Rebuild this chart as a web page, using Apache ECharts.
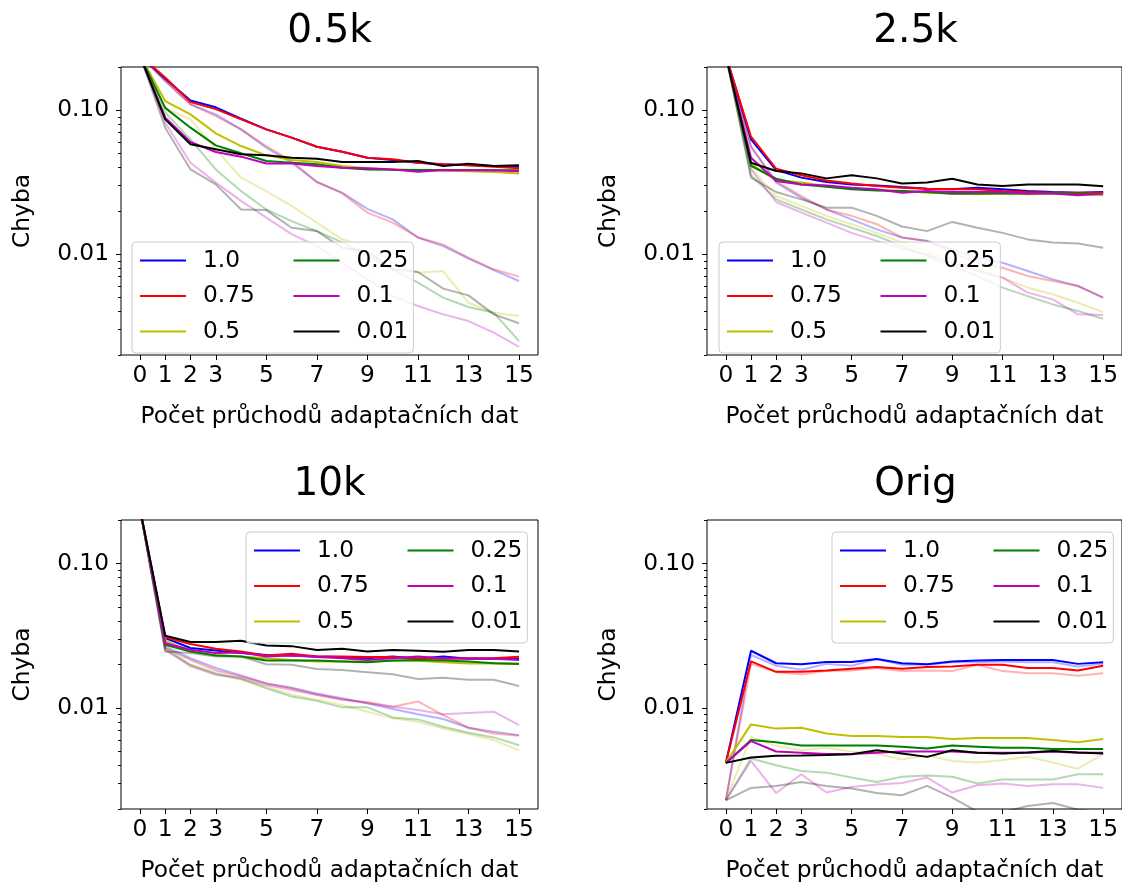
<!DOCTYPE html>
<html>
<head>
<meta charset="utf-8">
<title>Chyba adaptace</title>
<script src="https://cdn.jsdelivr.net/npm/echarts@6.0.0/dist/echarts.min.js"></script>
<style>
	html, body { margin: 0; padding: 0; background: #fff; }
	#main { width: 1122px; height: 883px; }
</style>
</head>
<body>
<div id="main"></div>
<script>
// osa x: pocet pruchodu 0..15
const passes = [0, 1, 2, 3, 4, 5, 6, 7, 8, 9, 10, 11, 12, 13, 14, 15];
const xTicks = [0, 1, 2, 3, 5, 7, 9, 11, 13, 15];
const yMajor = [0.01, 0.1];
const yMinor = [0.002, 0.003, 0.004, 0.005, 0.006, 0.007, 0.008, 0.009,
	0.02, 0.03, 0.04, 0.05, 0.06, 0.07, 0.08, 0.09, 0.2];
const rates = ['1.0', '0.75', '0.5', '0.25', '0.1', '0.01'];
const titles = ['0.5k', '2.5k', '10k', 'Orig'];

// 0.5k
const k05_100 = [0.24, 0.166, 0.117, 0.105, 0.0876, 0.0738, 0.0646, 0.0559, 0.0516, 0.0469, 0.0452, 0.0433, 0.0422, 0.0415, 0.0411, 0.0406];
const k05_075 = [0.24, 0.169, 0.114, 0.102, 0.0866, 0.0738, 0.0646, 0.0559, 0.0516, 0.0469, 0.0457, 0.0433, 0.0422, 0.0415, 0.0406, 0.0396];
const k05_050 = [0.24, 0.116, 0.0938, 0.0692, 0.0565, 0.0487, 0.0452, 0.0438, 0.0411, 0.0396, 0.0389, 0.0383, 0.0381, 0.0377, 0.0373, 0.0365];
const k05_025 = [0.24, 0.104, 0.0758, 0.0571, 0.0503, 0.0445, 0.0433, 0.0422, 0.0400, 0.0389, 0.0387, 0.0385, 0.0385, 0.0385, 0.0383, 0.0383];
const k05_010 = [0.24, 0.0889, 0.0603, 0.0514, 0.0477, 0.0428, 0.0428, 0.0411, 0.0400, 0.0396, 0.0389, 0.0375, 0.0385, 0.0383, 0.0383, 0.0377];
const k05_001 = [0.24, 0.0866, 0.0581, 0.0536, 0.0495, 0.0487, 0.0469, 0.0462, 0.0438, 0.0438, 0.0438, 0.0445, 0.0411, 0.0426, 0.0411, 0.0415];
const k05_100f = [0.24, 0.160, 0.110, 0.0938, 0.0738, 0.0550, 0.0433, 0.0318, 0.0268, 0.0207, 0.0175, 0.0131, 0.0114, 0.00933, 0.00778, 0.00653];
const k05_075f = [0.24, 0.160, 0.110, 0.0913, 0.0738, 0.0565, 0.0445, 0.0318, 0.0265, 0.0195, 0.0166, 0.0131, 0.0117, 0.00948, 0.00787, 0.0070];
const k05_050f = [0.24, 0.104, 0.0866, 0.0536, 0.0341, 0.0275, 0.0217, 0.0166, 0.0127, 0.0114, 0.00875, 0.00746, 0.00766, 0.00461, 0.00393, 0.00373];
const k05_025f = [0.24, 0.0963, 0.0629, 0.0389, 0.0275, 0.0205, 0.0170, 0.0145, 0.0121, 0.00974, 0.00787, 0.00636, 0.0050, 0.00431, 0.00393, 0.0025];
const k05_010f = [0.24, 0.0821, 0.0433, 0.0315, 0.0235, 0.0180, 0.0138, 0.0114, 0.00875, 0.0067, 0.00513, 0.00438, 0.00383, 0.00344, 0.00286, 0.00228];
const k05_001f = [0.24, 0.0758, 0.0389, 0.0306, 0.0205, 0.0203, 0.0153, 0.0145, 0.0111, 0.0105, 0.00787, 0.00754, 0.00578, 0.00519, 0.00383, 0.00332];

// 2.5k
const k25_100 = [0.24, 0.0629, 0.0385, 0.0341, 0.0318, 0.0306, 0.0301, 0.0293, 0.0286, 0.0283, 0.0290, 0.0283, 0.0275, 0.0271, 0.0268, 0.0271];
const k25_075 = [0.24, 0.0656, 0.0393, 0.0354, 0.0326, 0.0311, 0.0298, 0.0290, 0.0286, 0.0283, 0.0283, 0.0275, 0.0271, 0.0268, 0.0268, 0.0268];
const k25_050 = [0.24, 0.0422, 0.0328, 0.0315, 0.0298, 0.0286, 0.0280, 0.0275, 0.0268, 0.0265, 0.0261, 0.0265, 0.0261, 0.0264, 0.0261, 0.0257];
const k25_025 = [0.24, 0.0411, 0.0335, 0.0306, 0.0295, 0.0283, 0.0278, 0.0275, 0.0271, 0.0264, 0.0265, 0.0265, 0.0265, 0.0268, 0.0264, 0.0265];
const k25_010 = [0.24, 0.0469, 0.0323, 0.0306, 0.0301, 0.0290, 0.0283, 0.0268, 0.0275, 0.0271, 0.0271, 0.0271, 0.0265, 0.0265, 0.0257, 0.0265];
const k25_001 = [0.24, 0.0433, 0.0379, 0.0365, 0.0337, 0.0354, 0.0337, 0.0310, 0.0315, 0.0335, 0.0306, 0.0298, 0.0306, 0.0306, 0.0306, 0.0297];
const k25_100f = [0.24, 0.0565, 0.0315, 0.0247, 0.0205, 0.0175, 0.0149, 0.0131, 0.0124, 0.0108, 0.00948, 0.00875, 0.00766, 0.0067, 0.00603, 0.0050];
const k25_075f = [0.24, 0.0550, 0.0323, 0.0254, 0.0205, 0.0185, 0.0162, 0.0131, 0.0124, 0.0103, 0.00875, 0.00808, 0.00707, 0.00653, 0.00603, 0.0050];
const k25_050f = [0.24, 0.0400, 0.0254, 0.0217, 0.0185, 0.0162, 0.0141, 0.0121, 0.0105, 0.00923, 0.00787, 0.00689, 0.00587, 0.00528, 0.00461, 0.00398];
const k25_025f = [0.24, 0.0354, 0.0241, 0.0205, 0.0175, 0.0153, 0.0134, 0.0114, 0.00974, 0.0083, 0.00707, 0.00587, 0.00513, 0.00449, 0.00404, 0.00357];
const k25_010f = [0.24, 0.0389, 0.0231, 0.0195, 0.0166, 0.0141, 0.0124, 0.0110, 0.0100, 0.00875, 0.00766, 0.00689, 0.00542, 0.00487, 0.00383, 0.00379];
const k25_001f = [0.24, 0.0341, 0.0271, 0.0241, 0.0211, 0.0211, 0.0185, 0.0156, 0.0145, 0.0168, 0.0153, 0.0141, 0.0127, 0.0121, 0.0119, 0.0111];

// 10k
const k10_100 = [0.24, 0.0305, 0.0260, 0.0250, 0.0240, 0.0233, 0.0231, 0.0227, 0.0225, 0.0221, 0.0227, 0.0219, 0.0227, 0.0219, 0.0219, 0.0219];
const k10_075 = [0.24, 0.0308, 0.0277, 0.0257, 0.0246, 0.0231, 0.0237, 0.0227, 0.0227, 0.0225, 0.0225, 0.0221, 0.0219, 0.0221, 0.0221, 0.0226];
const k10_050 = [0.24, 0.0292, 0.0246, 0.0233, 0.0227, 0.0221, 0.0215, 0.0210, 0.0210, 0.0210, 0.0212, 0.0212, 0.0207, 0.0203, 0.0204, 0.0203];
const k10_025 = [0.24, 0.0274, 0.0246, 0.0231, 0.0227, 0.0213, 0.0213, 0.0213, 0.0210, 0.0207, 0.0213, 0.0215, 0.0213, 0.0210, 0.0204, 0.0202];
const k10_010 = [0.24, 0.0281, 0.0253, 0.0240, 0.0242, 0.0227, 0.0231, 0.0225, 0.0221, 0.0215, 0.0221, 0.0227, 0.0221, 0.0219, 0.0219, 0.0215];
const k10_001 = [0.24, 0.0316, 0.0286, 0.0286, 0.0292, 0.0271, 0.0268, 0.0252, 0.0257, 0.0246, 0.0252, 0.0249, 0.0245, 0.0252, 0.0252, 0.0246];
const k10_100f = [0.24, 0.0267, 0.0221, 0.0189, 0.0168, 0.0148, 0.0138, 0.0126, 0.0117, 0.0108, 0.00984, 0.00904, 0.00839, 0.0073, 0.00685, 0.00649];
const k10_075f = [0.24, 0.0260, 0.0215, 0.0182, 0.0165, 0.0148, 0.0137, 0.0124, 0.0114, 0.0110, 0.0102, 0.0111, 0.00894, 0.0073, 0.00667, 0.00643];
const k10_050f = [0.24, 0.0249, 0.0199, 0.0171, 0.0157, 0.0141, 0.0124, 0.0114, 0.0105, 0.00943, 0.00848, 0.00804, 0.00722, 0.0066, 0.00599, 0.00511];
const k10_025f = [0.24, 0.0260, 0.0199, 0.0174, 0.0159, 0.0137, 0.0120, 0.0112, 0.0101, 0.0101, 0.00861, 0.00834, 0.00742, 0.00674, 0.00626, 0.00553];
const k10_010f = [0.24, 0.0253, 0.0194, 0.0170, 0.0161, 0.0144, 0.0133, 0.0123, 0.0115, 0.0108, 0.0102, 0.00968, 0.00904, 0.00923, 0.00943, 0.00762];
const k10_001f = [0.24, 0.0246, 0.0240, 0.0227, 0.0227, 0.0201, 0.0199, 0.0186, 0.0183, 0.0177, 0.0171, 0.0159, 0.0162, 0.0157, 0.0157, 0.0142];

// Orig
const or_100 = [0.00417, 0.0249, 0.0204, 0.0201, 0.0208, 0.0208, 0.0218, 0.0204, 0.0201, 0.0210, 0.0213, 0.0215, 0.0215, 0.0215, 0.0202, 0.0207];
const or_075 = [0.00417, 0.0210, 0.0178, 0.0178, 0.0182, 0.0187, 0.0192, 0.0187, 0.0192, 0.0194, 0.0199, 0.0199, 0.0189, 0.0189, 0.0182, 0.0196];
const or_050 = [0.00417, 0.0077, 0.0072, 0.0073, 0.00667, 0.0064, 0.0064, 0.0063, 0.0063, 0.0061, 0.0062, 0.0062, 0.0062, 0.0060, 0.0058, 0.0061];
const or_025 = [0.00417, 0.0060, 0.0058, 0.0055, 0.0055, 0.0055, 0.0055, 0.0054, 0.00525, 0.0055, 0.0054, 0.0053, 0.0053, 0.0052, 0.0052, 0.0052];
const or_010 = [0.00417, 0.0059, 0.0050, 0.0049, 0.0048, 0.0048, 0.0049, 0.0050, 0.0050, 0.0050, 0.0049, 0.0049, 0.0049, 0.0050, 0.0049, 0.0049];
const or_001 = [0.00417, 0.00454, 0.00467, 0.00469, 0.00472, 0.00479, 0.0051, 0.00484, 0.00459, 0.0051, 0.0049, 0.00484, 0.00492, 0.00503, 0.00492, 0.00484];
const or_100f = [0.0023, 0.0233, 0.0196, 0.0184, 0.0202, 0.0196, 0.0218, 0.0199, 0.0199, 0.0207, 0.0207, 0.0210, 0.0207, 0.0207, 0.0194, 0.0202];
const or_075f = [0.0023, 0.0202, 0.0177, 0.0171, 0.0180, 0.0182, 0.0189, 0.0180, 0.0182, 0.0180, 0.0199, 0.0180, 0.0174, 0.0174, 0.0167, 0.0174];
const or_050f = [0.0023, 0.0063, 0.00545, 0.0051, 0.0053, 0.0050, 0.0048, 0.0044, 0.0047, 0.0043, 0.0042, 0.00435, 0.0046, 0.0042, 0.0038, 0.0048];
const or_025f = [0.0023, 0.00447, 0.00402, 0.00367, 0.00357, 0.0033, 0.00308, 0.00334, 0.00341, 0.00334, 0.0030, 0.0032, 0.0032, 0.0032, 0.00348, 0.00348];
const or_010f = [0.0023, 0.00431, 0.00258, 0.00348, 0.0026, 0.00284, 0.00295, 0.00303, 0.0033, 0.0026, 0.00292, 0.0030, 0.00289, 0.00297, 0.00297, 0.0028];
const or_001f = [0.0023, 0.0028, 0.00289, 0.00308, 0.00289, 0.00277, 0.00258, 0.00249, 0.00289, 0.0024, 0.00192, 0.0019, 0.0021, 0.0022, 0.00198, 0.0019];

const solid = [
	[k05_100, k05_075, k05_050, k05_025, k05_010, k05_001],
	[k25_100, k25_075, k25_050, k25_025, k25_010, k25_001],
	[k10_100, k10_075, k10_050, k10_025, k10_010, k10_001],
	[or_100, or_075, or_050, or_025, or_010, or_001]
];
const faded = [
	[k05_100f, k05_075f, k05_050f, k05_025f, k05_010f, k05_001f],
	[k25_100f, k25_075f, k25_050f, k25_025f, k25_010f, k25_001f],
	[k10_100f, k10_075f, k10_050f, k10_025f, k10_010f, k10_001f],
	[or_100f, or_075f, or_050f, or_025f, or_010f, or_001f]
];

// barvy jako v matplotlibu: b, r, y, g, m, k
const colors = ['#0000ff', '#ff0000', '#bfbf00', '#008000', '#bf00bf', '#000000'];
const FONT = 'DejaVu Sans';
const FS = 23.3;

// rozlozeni panelu (px)
const grids = [
	{ left: 121, top: 67, width: 417, height: 288 },
	{ left: 707, top: 67, width: 417, height: 288 },
	{ left: 121, top: 520, width: 417, height: 289 },
	{ left: 707, top: 520, width: 417, height: 289 }
];
const titleTop = [12, 12, 465, 465];
const legendPos = [
	{ left: 132, top: 242 },
	{ left: 719, top: 242 },
	{ left: 246, top: 532 },
	{ left: 832, top: 532 }
];

function pairs(arr) {
	return passes.map(function (p, i) { return [p, arr[i]]; });
}

const chart = echarts.init(document.getElementById('main'), null, { renderer: 'canvas' });

const option = {
	animation: false,
	backgroundColor: '#ffffff',
	title: [],
	legend: [],
	grid: [],
	xAxis: [],
	yAxis: [],
	series: []
};

grids.forEach(function (g, gi) {
	option.grid.push({
		left: g.left, top: g.top, width: g.width, height: g.height,
		show: true, borderColor: '#000', borderWidth: 1, backgroundColor: 'transparent'
	});
	option.title.push({
		text: titles[gi],
		left: g.left + g.width / 2,
		top: titleTop[gi],
		textAlign: 'center',
		padding: 0,
		textStyle: { fontFamily: FONT, fontSize: 39, fontWeight: 'normal', color: '#000' }
	});
	option.xAxis.push({
		type: 'value', gridIndex: gi,
		min: -0.75, max: 15.75,
		name: 'Počet průchodů adaptačních dat',
		nameLocation: 'middle', nameGap: 50,
		nameTextStyle: { fontFamily: FONT, fontSize: FS, color: '#000' },
		axisLine: { show: false, onZero: false },
		splitLine: { show: false },
		axisTick: { show: true, length: 5, customValues: xTicks, lineStyle: { color: '#000', width: 1 } },
		axisLabel: { customValues: xTicks, margin: 9, fontFamily: FONT, fontSize: FS, color: '#000' }
	});
	// hlavni osa y (log)
	option.yAxis.push({
		type: 'log', logBase: 10, gridIndex: gi,
		position: 'left',
		min: 0.002, max: 0.2,
		name: 'Chyba',
		nameLocation: 'middle', nameGap: 87,
		nameTextStyle: { fontFamily: FONT, fontSize: FS, color: '#000' },
		axisLine: { show: false, onZero: false },
		splitLine: { show: false },
		axisTick: { show: true, length: 5, customValues: yMajor, lineStyle: { color: '#000', width: 1 } },
		axisLabel: {
			customValues: yMajor, margin: 12, fontFamily: FONT, fontSize: FS, color: '#000',
			formatter: function (v) { return Number(v).toFixed(2); }
		}
	});
	// vedlejsi ticky
	option.yAxis.push({
		type: 'log', logBase: 10, gridIndex: gi,
		position: 'left', offset: 0,
		min: 0.002, max: 0.2,
		axisLine: { show: false, onZero: false },
		splitLine: { show: false },
		axisLabel: { show: false },
		axisTick: { show: true, length: 3, customValues: yMinor, lineStyle: { color: '#000', width: 1 } }
	});
	option.legend.push({
		orient: 'vertical',
		left: legendPos[gi].left, top: legendPos[gi].top,
		height: 107,
		padding: [7, 5, 10, 8],
		icon: 'rect',
		itemWidth: 46, itemHeight: 2, itemGap: 12.5,
		backgroundColor: 'rgba(255,255,255,0.8)',
		borderColor: '#cccccc', borderWidth: 1, borderRadius: 4,
		selectedMode: false,
		textStyle: { fontFamily: FONT, fontSize: FS, color: '#000', lineHeight: 20, padding: [0, 0, 0, 12] },
		data: rates.map(function (r, i) {
			return i < 3 ? { name: r, textStyle: { width: 78 } } : { name: r };
		})
	});

	const yIdx = gi * 2;
	// nejdriv slabe (alpha) krivky, pak plne
	faded[gi].forEach(function (arr, si) {
		option.series.push({
			name: rates[si] + ' ',
			type: 'line', xAxisIndex: gi, yAxisIndex: yIdx,
			data: pairs(arr),
			symbol: 'none', silent: true,
			lineStyle: { color: colors[si], width: 2, opacity: 0.3 },
			itemStyle: { color: colors[si] },
			z: 2
		});
	});
	solid[gi].forEach(function (arr, si) {
		option.series.push({
			name: rates[si],
			type: 'line', xAxisIndex: gi, yAxisIndex: yIdx,
			data: pairs(arr),
			symbol: 'none', silent: true,
			lineStyle: { color: colors[si], width: 2 },
			itemStyle: { color: colors[si] },
			z: 3
		});
	});
});

chart.setOption(option);
</script>
</body>
</html>
